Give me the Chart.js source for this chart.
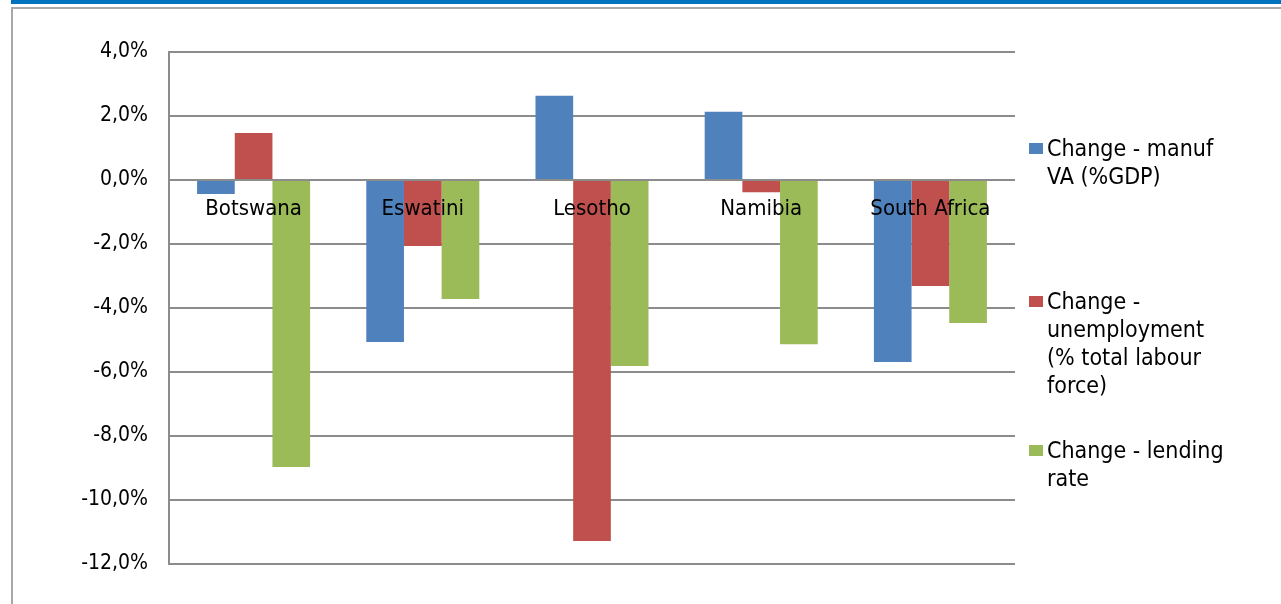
<!DOCTYPE html>
<html lang="en">
<head>
  <meta charset="UTF-8" />
  <title>Change in manufacturing VA, unemployment and lending rate</title>
  <script src="https://cdn.jsdelivr.net/npm/chart.js"></script>
  <style>
    html, body {
      margin: 0;
      padding: 0;
      background: #ffffff;
    }
    .page {
      position: relative;
      width: 1281px;
      height: 604px;
      overflow: hidden;
      font-family: "DejaVu Sans Condensed", "DejaVu Sans", sans-serif;
    }
    /* blue strip and grey frame round the slide */
    .top-strip {
      position: absolute;
      left: 11px;
      top: 0;
      right: 0;
      height: 4px;
      background: #0072c0;
    }
    .frame {
      position: absolute;
      left: 11px;
      top: 7px;
      right: -10px;
      bottom: -10px;
      border-left: 2px solid #a8a8a8;
      border-top: 2px solid #a8a8a8;
    }
    canvas {
      position: absolute;
      left: 0;
      top: 0;
    }
    .legend-item {
      position: absolute;
      left: 1047px;
      font-size: 23px;
      line-height: 28px;
      color: #000;
      white-space: nowrap;
    }
    .legend-box {
      position: absolute;
      left: -18px;
      top: 9px;
      width: 14px;
      height: 11px;
    }
  </style>
</head>
<body>
  <div class="page">
    <canvas id="chart" width="1281" height="604"></canvas>
    <div class="frame"></div>
    <div class="top-strip"></div>
    <div id="legend"></div>
  </div>

  <script>
    // data
    const categories = ['Botswana', 'Eswatini', 'Lesotho', 'Namibia', 'South Africa'];
    const manufVA = [-0.44, -5.06, 2.63, 2.13, -5.69];
    const unemployment = [1.47, -2.06, -11.28, -0.38, -3.31];
    const lendingRate = [-8.97, -3.72, -5.81, -5.13, -4.47];

    const seriesNames = ['Change - manuf VA (%GDP)', 'Change - unemployment (% total labour force)', 'Change - lending rate'];
    const legendLines = [
      ['Change - manuf', 'VA (%GDP)'],
      ['Change -', 'unemployment', '(% total labour', 'force)'],
      ['Change - lending', 'rate']
    ];
    const seriesColors = ['#4f81bd', '#c0504d', '#9bbb59'];

    const yMin = -12;
    const yMax = 4;
    const yStep = 2;

    const fontFamily = '"DejaVu Sans Condensed", "DejaVu Sans", sans-serif';

    // tick labels use a decimal comma
    function fmtPct(v) {
      return v.toFixed(1).replace('.', ',') + '%';
    }

    const ctx = document.getElementById('chart').getContext('2d');
    new Chart(ctx, {
      type: 'bar',
      data: {
        labels: categories,
        datasets: [manufVA, unemployment, lendingRate].map((vals, i) => ({
          label: seriesNames[i],
          data: vals,
          backgroundColor: seriesColors[i],
          borderWidth: 0,
          categoryPercentage: 0.668,
          barPercentage: 1.0
        }))
      },
      options: {
        responsive: false,
        animation: false,
        devicePixelRatio: 1,
        layout: {
          padding: { left: 0, top: 52, right: 266, bottom: 40 }
        },
        plugins: {
          legend: { display: false },
          tooltip: { enabled: false }
        },
        scales: {
          x: {
            type: 'category',
            position: { y: 0 },
            offset: true,
            grid: { display: false },
            border: { display: false },
            ticks: {
              z: 1, // category names sit on top of the bars
              color: '#000',
              font: { family: fontFamily, size: 22 },
              padding: 8,
              maxRotation: 0,
              autoSkip: false
            }
          },
          y: {
            min: yMin,
            max: yMax,
            ticks: {
              stepSize: yStep,
              color: '#000',
              font: { family: fontFamily, size: 21 },
              padding: 21,
              callback: (v) => fmtPct(v)
            },
            grid: {
              color: '#8c8c8c',
              lineWidth: 2,
              drawTicks: false,
              tickLength: 0
            },
            border: { display: true, color: '#8c8c8c', width: 2 },
            afterFit: (scale) => { scale.width = 169; }
          }
        }
      }
    });

    // legend on the right, text wraps like the original
    const legendTops = [134, 287, 436];
    const legend = document.getElementById('legend');
    legendLines.forEach((lines, i) => {
      const item = document.createElement('div');
      item.className = 'legend-item';
      item.style.top = legendTops[i] + 'px';
      const box = document.createElement('span');
      box.className = 'legend-box';
      box.style.background = seriesColors[i];
      item.appendChild(box);
      lines.forEach((t, j) => {
        if (j > 0) item.appendChild(document.createElement('br'));
        item.appendChild(document.createTextNode(t));
      });
      legend.appendChild(item);
    });
  </script>
</body>
</html>
